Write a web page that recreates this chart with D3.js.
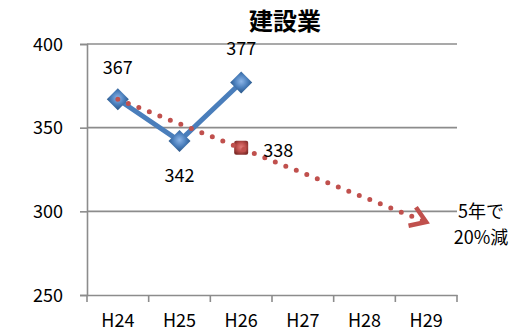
<!DOCTYPE html>
<html>
<head>
<meta charset="utf-8">
<script src="https://cdn.jsdelivr.net/npm/d3@7"></script>
<style>
  body { margin: 0; background: #fff; }
  text { font-family: "Noto Sans CJK JP", "Open Sans", sans-serif; fill: #000; }
</style>
</head>
<body>
<div id="chart"></div>
<script>
// data
const categories = ["H24", "H25", "H26", "H27", "H28", "H29"];
const actualYears = ["H24", "H25", "H26"];
const actualValues = [367, 342, 377];
const targetYear = "H26";
const targetValue = 338;
const trendYears = ["H24", "H29"];
const trendValues = [367, 293.6];
const yTicks = [250, 300, 350, 400];
const chartTitle = "建設業";
const noteLines = ["5年で", "20%減"];

const width = 515, height = 332;
const margin = {top: 44, right: 58, bottom: 37, left: 87};

const svg = d3.select("#chart")
    .append("svg")
    .attr("width", width)
    .attr("height", height);

const defs = svg.append("defs");

// shaded diamond
const blueGrad = defs.append("radialGradient")
    .attr("id", "blueGrad")
    .attr("cx", "50%").attr("cy", "45%").attr("r", "60%");
blueGrad.append("stop").attr("offset", "0%").attr("stop-color", "#8db6e8");
blueGrad.append("stop").attr("offset", "50%").attr("stop-color", "#4a7ebb");
blueGrad.append("stop").attr("offset", "100%").attr("stop-color", "#1f4a78");

const redGrad = defs.append("radialGradient")
    .attr("id", "redGrad")
    .attr("cx", "50%").attr("cy", "45%").attr("r", "60%");
redGrad.append("stop").attr("offset", "0%").attr("stop-color", "#e07a77");
redGrad.append("stop").attr("offset", "50%").attr("stop-color", "#c0504d");
redGrad.append("stop").attr("offset", "100%").attr("stop-color", "#7d2a28");

defs.append("filter").attr("id", "soft")
    .append("feGaussianBlur").attr("stdDeviation", 0.7);

// arrow head
defs.append("marker")
    .attr("id", "arrow")
    .attr("viewBox", "0 0 24 24")
    .attr("refX", 18).attr("refY", 12)
    .attr("markerWidth", 24).attr("markerHeight", 24)
    .attr("markerUnits", "userSpaceOnUse")
    .attr("orient", "auto")
    .append("path")
    .attr("d", "M3,2 L18,12 L3,22")
    .attr("fill", "none")
    .attr("stroke", "#c0504d")
    .attr("stroke-width", 4.5)
    .attr("stroke-linejoin", "miter")
    .attr("stroke-linecap", "butt");

// scales
const x = d3.scaleBand()
    .domain(categories)
    .range([margin.left, width - margin.right])
    .padding(0);

const y = d3.scaleLinear()
    .domain([250, 400])
    .range([height - margin.bottom, margin.top]);

const cx = d => x(d) + x.bandwidth() / 2;

// gridlines
svg.append("g")
    .selectAll("line")
    .data(yTicks.filter(d => d !== 250))
    .join("line")
    .attr("x1", margin.left)
    .attr("x2", width - margin.right)
    .attr("y1", d => y(d))
    .attr("y2", d => y(d))
    .attr("stroke", "#8c8c8c")
    .attr("stroke-width", 1.6);

// y axis
const yAxis = svg.append("g")
    .attr("transform", `translate(${margin.left},0)`)
    .call(d3.axisLeft(y).tickValues(yTicks).tickSize(7).tickPadding(17));
yAxis.selectAll("path, line").attr("stroke", "#8c8c8c").attr("stroke-width", 1.6);
yAxis.selectAll("text")
    .style("font-size", "18px")
    .attr("dy", "0.35em");

// x axis
const xAxis = svg.append("g")
    .attr("transform", `translate(0,${height - margin.bottom})`)
    .call(d3.axisBottom(x).tickSize(0).tickPadding(0));
xAxis.select(".domain").attr("stroke", "#8c8c8c").attr("stroke-width", 1.6);
xAxis.selectAll("text")
    .style("font-size", "18px")
    .attr("y", 32)
    .attr("dy", null);

// tick marks on the band edges
svg.append("g")
    .selectAll("line")
    .data(categories.concat(["end"]))
    .join("line")
    .attr("x1", (d, i) => i < categories.length ? x(d) : x(categories[categories.length - 1]) + x.bandwidth())
    .attr("x2", (d, i) => i < categories.length ? x(d) : x(categories[categories.length - 1]) + x.bandwidth())
    .attr("y1", height - margin.bottom)
    .attr("y2", height - margin.bottom + 7)
    .attr("stroke", "#8c8c8c")
    .attr("stroke-width", 1.6);

// title
svg.append("text")
    .attr("x", 285)
    .attr("y", 30)
    .attr("text-anchor", "middle")
    .style("font-size", "24px")
    .style("font-weight", "700")
    .text(chartTitle);

// actual line
const actual = actualYears.map((d, i) => ({year: d, value: actualValues[i]}));

svg.append("path")
    .datum(actual)
    .attr("d", d3.line().x(d => cx(d.year)).y(d => y(d.value)))
    .attr("fill", "none")
    .attr("stroke", "#4a7ebb")
    .attr("stroke-width", 5);

svg.append("g")
    .selectAll("path")
    .data(actual)
    .join("path")
    .attr("transform", d => `translate(${cx(d.year)},${y(d.value)})`)
    .attr("d", "M0,-11 L11,0 L0,11 L-11,0 Z")
    .attr("fill", "url(#blueGrad)")
    .attr("filter", "url(#soft)");

// target marker
svg.append("rect")
    .attr("x", cx(targetYear) - 7)
    .attr("y", y(targetValue) - 7)
    .attr("width", 14)
    .attr("height", 14)
    .attr("rx", 2)
    .attr("fill", "url(#redGrad)")
    .attr("filter", "url(#soft)");

// trend dotted arrow
const trend = trendYears.map((d, i) => ({year: d, value: trendValues[i]}));
svg.append("path")
    .datum(trend)
    .attr("d", d3.line().x(d => cx(d.year)).y(d => y(d.value)))
    .attr("fill", "none")
    .attr("stroke", "#c0504d")
    .attr("stroke-width", 5)
    .attr("stroke-linecap", "round")
    .attr("stroke-dasharray", "0 11.3")
    .attr("marker-end", "url(#arrow)");

// data labels
const labelOffsets = [-25, 41, -27];
svg.append("g")
    .selectAll("text")
    .data(actual)
    .join("text")
    .attr("x", d => cx(d.year))
    .attr("y", (d, i) => y(d.value) + labelOffsets[i])
    .attr("text-anchor", "middle")
    .style("font-size", "18px")
    .text(d => d.value);

svg.append("text")
    .attr("x", cx(targetYear) + 22)
    .attr("y", y(targetValue) + 9)
    .style("font-size", "18px")
    .text(targetValue);

// note
svg.append("g")
    .selectAll("text")
    .data(noteLines)
    .join("text")
    .attr("x", 481)
    .attr("y", (d, i) => 218 + i * 26)
    .attr("text-anchor", "middle")
    .style("font-size", "18px")
    .text(d => d);
</script>
</body>
</html>
